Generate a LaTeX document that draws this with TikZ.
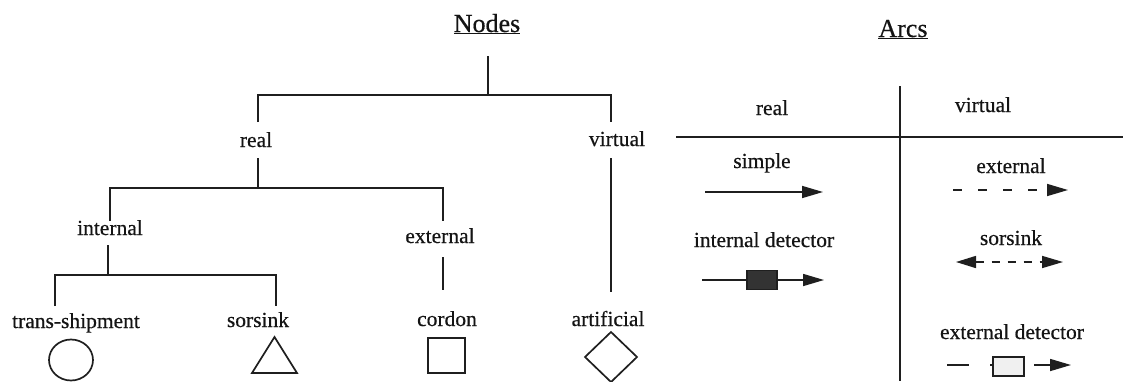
\documentclass[tikz,border=0pt]{standalone}
\usepackage{fontspec}
\setmainfont{Liberation Serif}[UprightFeatures={FakeBold=0.5}]
\usetikzlibrary{shapes.geometric,arrows.meta,calc}
\begin{document}
\begin{tikzpicture}[x=1pt,y=-1pt,
  lbl/.style={anchor=base,inner sep=0pt,font=\fontsize{21.5}{24}\selectfont,text=black!92},
  ttl/.style={anchor=base,inner sep=0pt,font=\fontsize{26}{30}\selectfont,text=black!92},
  tree/.style={line width=1.8pt,black!88},
  rule/.style={line width=1.9pt,black!88},
  sym/.style={draw=black!88,line width=1.7pt,inner sep=0pt,outer sep=0pt},
  arc/.style={line width=1.6pt,black!88,-{Triangle[length=21pt,width=12pt]}},
  dasharc/.style={arc,dash pattern=on 9pt off 16pt},
  bothdash/.style={line width=1.6pt,black!88,{Triangle[length=20pt,width=12pt]}-{Triangle[length=21pt,width=12pt]},dash pattern=on 8pt off 8pt},
]
\useasboundingbox (0,0) rectangle (1123,381);

% ---------------- node classification tree ----------------
\node[ttl] (nodesT) at (487,32) {\underline{Nodes}};

\node[lbl] (real)   at (256,147) {real};
\node[lbl] (virt)   at (617,146) {virtual};
\node[lbl] (intl)   at (110,235) {internal};
\node[lbl] (extl)   at (440,243) {external};
\node[lbl] (trans)  at (76,328)  {trans-shipment};
\node[lbl] (sors)   at (258,327) {sorsink};
\node[lbl] (cord)   at (447,326) {cordon};
\node[lbl] (artf)   at (608,326) {artificial};

% line ends next to the labels
\coordinate (rootTop)  at (488,56);
\coordinate (rootBar)  at (488,95);
\coordinate (realUp)   at (258,122);
\coordinate (virtUp)   at (611,122);
\coordinate (realDown) at (258,158);
\coordinate (realBar)  at (258,188);
\coordinate (intUp)    at (110,221);
\coordinate (extUp)    at (443,221);
\coordinate (intDown)  at (108,245);
\coordinate (intBar)   at (108,275);
\coordinate (transUp)  at (55,306);
\coordinate (sorsUp)   at (276,306);
\coordinate (extDown)  at (443,257);
\coordinate (cordUp)   at (443,290);
\coordinate (virtDown) at (611,158);
\coordinate (artfUp)   at (611,292);

\draw[tree] (rootTop) -- (rootBar);
\draw[tree] (realUp) -- (realUp |- rootBar) -- (virtUp |- rootBar) -- (virtUp);
\draw[tree] (realDown) -- (realBar);
\draw[tree] (intUp) -- (intUp |- realBar) -- (extUp |- realBar) -- (extUp);
\draw[tree] (intDown) -- (intBar);
\draw[tree] (transUp) -- (transUp |- intBar) -- (sorsUp |- intBar) -- (sorsUp);
\draw[tree] (extDown) -- (cordUp);
\draw[tree] (virtDown) -- (artfUp);

% node symbols
\node[sym,ellipse,minimum width=44pt,minimum height=41pt] (circ) at (71,360) {};
\coordinate (triC) at (274.5,355);
\draw[sym] ($(triC)+(0,-18)$) -- ($(triC)+(22.5,18)$) -- ($(triC)+(-22.5,18)$) -- cycle;
\node[sym,rectangle,minimum width=37pt,minimum height=35pt] (sq) at (446.5,355.5) {};
\node[sym,diamond,minimum width=52pt,minimum height=50pt] (dia) at (611,357) {};

% ---------------- arc types table ----------------
\node[ttl] (arcsT) at (903,37) {\underline{Arcs}};

\coordinate (colTop) at (900,86);
\coordinate (colBot) at (900,381);
\coordinate (rowL)   at (676,137);
\coordinate (rowR)   at (1123,137);
\draw[rule] (colTop) -- (colBot);
\draw[rule] (rowL) -- (rowR);

\node[lbl] (hReal) at (772,115) {real};
\node[lbl] (hVirt) at (983,112) {virtual};
\node[lbl] (simp)  at (762,168) {simple};
\node[lbl] (extA)  at (1011,173) {external};
\node[lbl] (intD)  at (764,247) {internal detector};
\node[lbl] (sorsA) at (1011,245) {sorsink};
\node[lbl] (extD)  at (1012,339) {external detector};

% simple arc
\coordinate (sA) at (705,192);
\coordinate (sB) at (823,192);
\draw[arc] (sA) -- (sB);

% external arc
\coordinate (eA) at (953,190);
\coordinate (eB) at (1068,190);
\draw[dasharc] (eA) -- (eB);

% internal detector arc
\coordinate (iA) at (702,280);
\node[draw=black!88,fill=black!80,line width=1.2pt,minimum width=30pt,minimum height=19pt,inner sep=0pt] (iBox) at (762,280) {};
\coordinate (iB) at (824,280);
\draw[line width=1.6pt,black!88] (iA) -- (iBox.west);
\draw[arc] (iBox.east) -- (iB);

% sorsink arc
\coordinate (ssA) at (956,262);
\coordinate (ssB) at (1063,262);
\draw[bothdash] (ssA) -- (ssB);

% external detector arc
\coordinate (xA) at (947,365);
\coordinate (xB) at (969,365);
\draw[line width=1.9pt,black!88] (xA) -- (xB);
\node[draw=black!88,fill=black!6,line width=1.6pt,minimum width=31pt,minimum height=19pt,inner sep=0pt] (xBox) at (1008.5,366.5) {};
\coordinate (xStub) at (990,365);
\draw[line width=1.2pt,black!88] (xStub) -- (xBox.west |- xStub);
\coordinate (xC) at (1034,365);
\coordinate (xD) at (1071,365);
\draw[arc] (xC) -- (xD);
\end{tikzpicture}
\end{document}
